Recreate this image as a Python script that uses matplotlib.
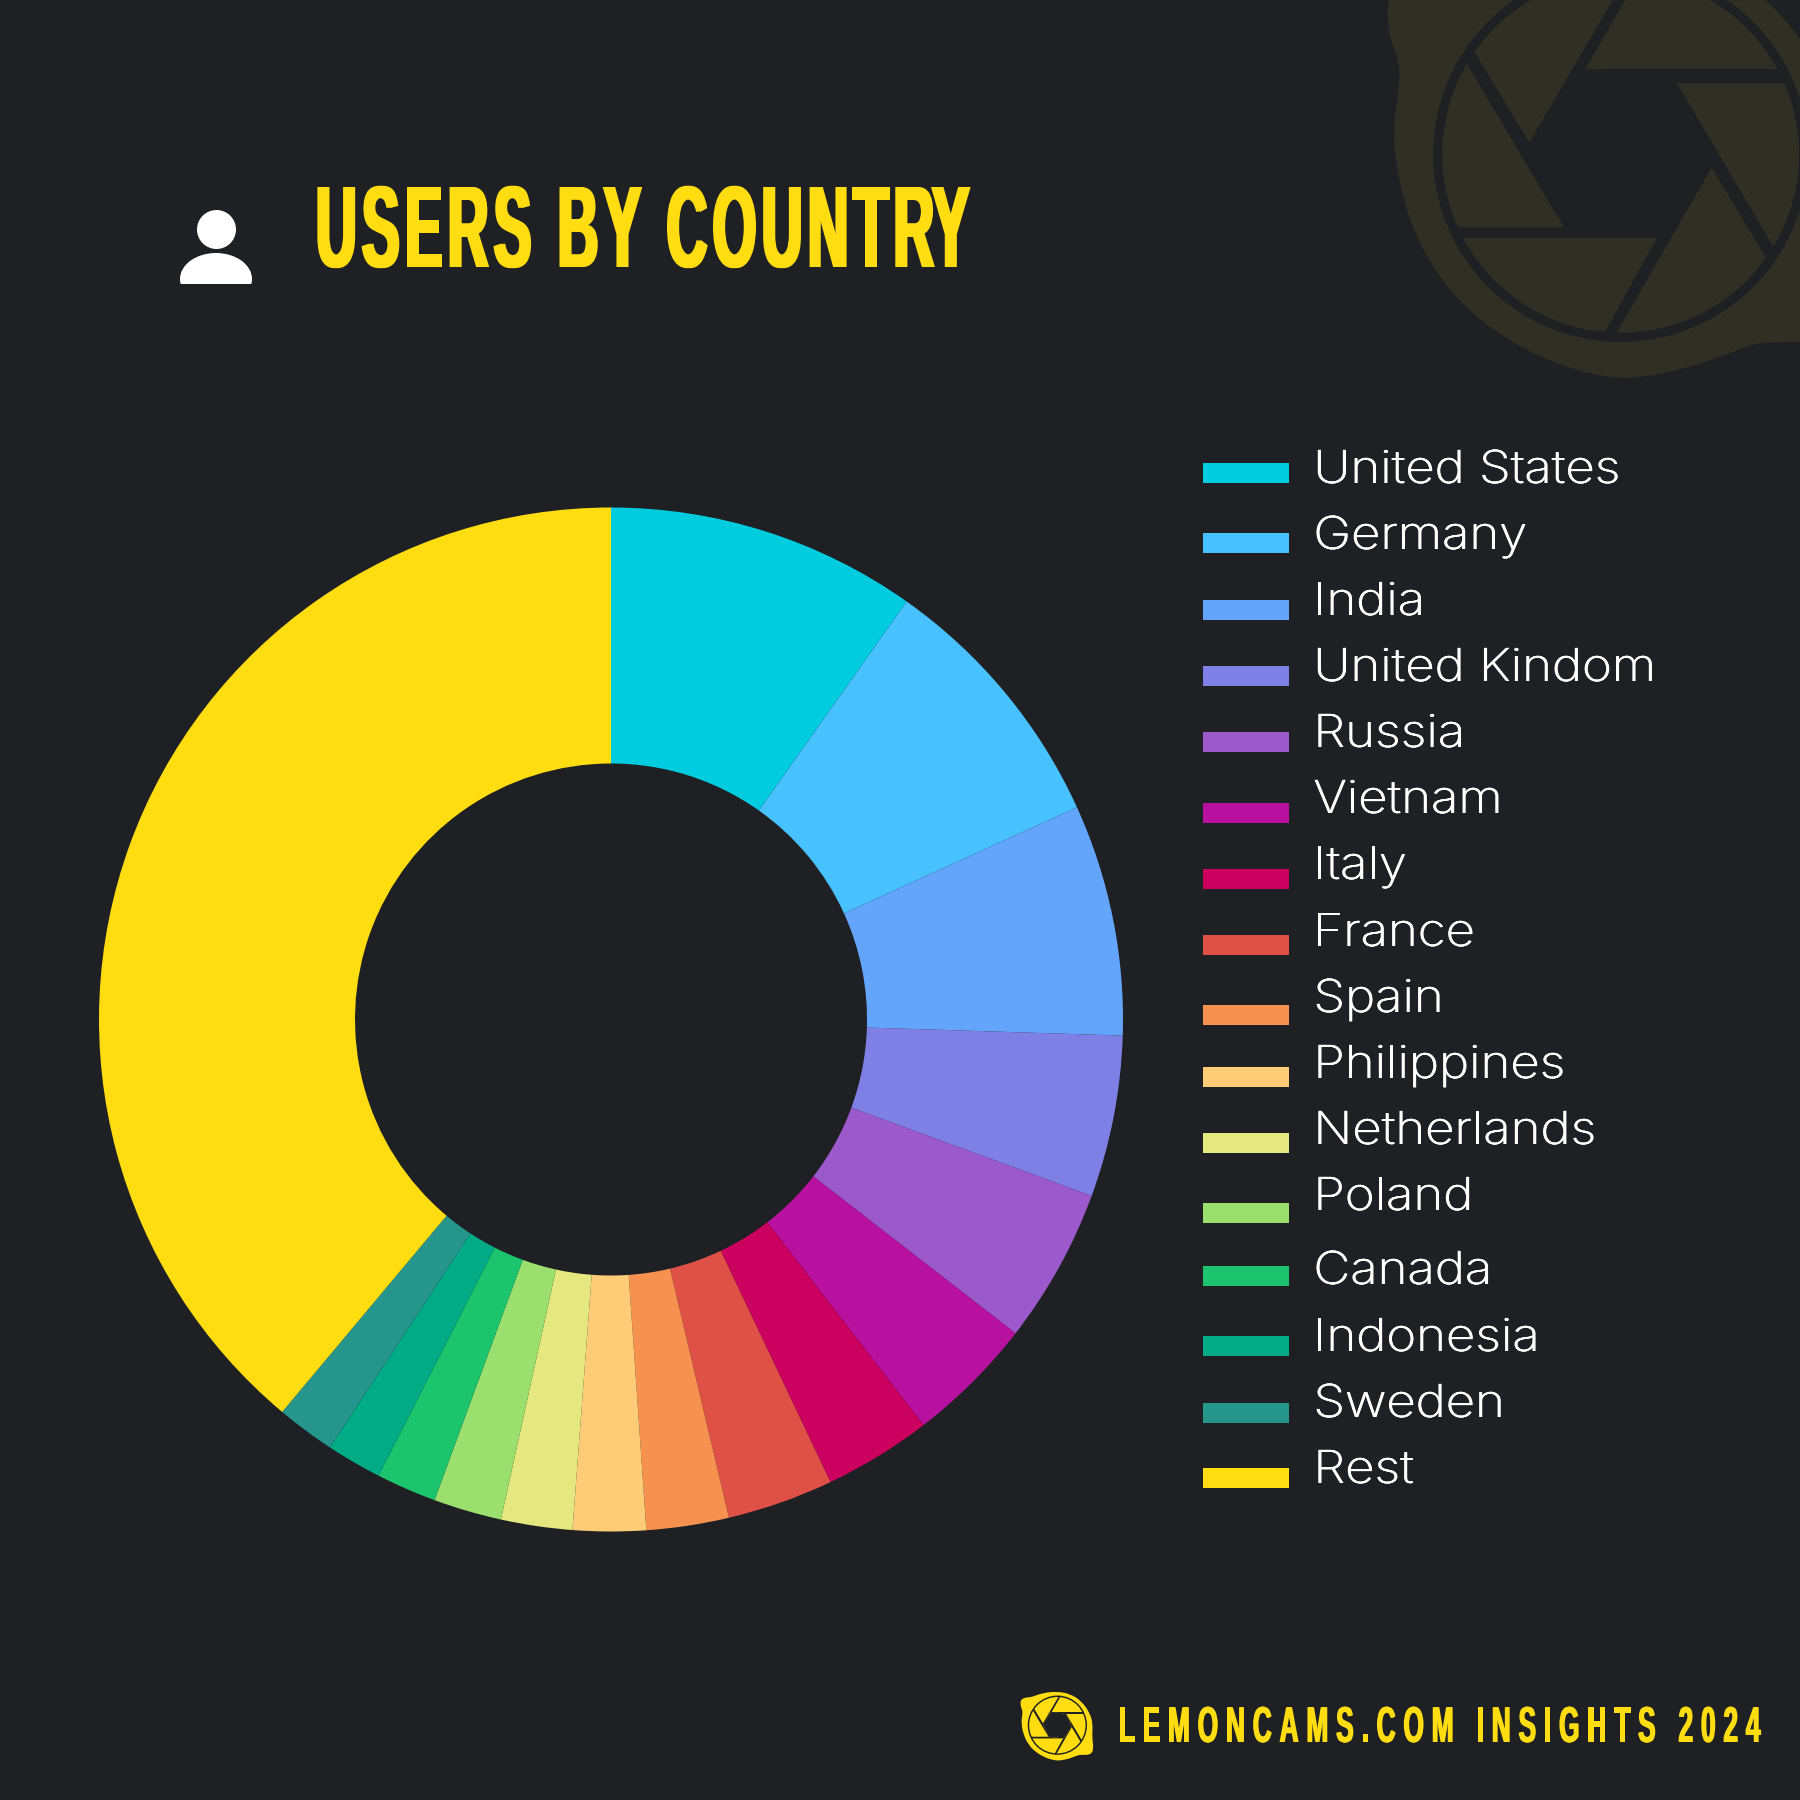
import numpy as np
import matplotlib
matplotlib.use('Agg')
import matplotlib.pyplot as plt
from matplotlib.patches import Circle, Ellipse, PathPatch, Polygon, Rectangle
from matplotlib.path import Path
from matplotlib.patheffects import AbstractPathEffect
from matplotlib.transforms import Affine2D

# data, share of users in percent
countries = ['United States', 'Germany', 'India', 'United Kindom', 'Russia', 'Vietnam',
             'Italy', 'France', 'Spain', 'Philippines', 'Netherlands', 'Poland',
             'Canada', 'Indonesia', 'Sweden', 'Rest']
shares = [9.8, 8.4, 7.3, 5.1, 4.9, 4.05, 3.4, 3.35, 2.6, 2.3, 2.25, 2.15, 1.9, 1.75, 1.85, 38.9]
colors = ['#00CCDF', '#48C2FF', '#62A5FA', '#7E80E6', '#9B59CC', '#B8109F', '#CC005F', '#DF5146',
          '#F6924F', '#FECB76', '#E5E87E', '#9BE06F', '#1CC46E', '#00AB85', '#26958C', '#FFDD11']

# legend rows are not evenly spaced in the original (pixels from the top)
swatch_tops = [463, 533, 600, 666, 732, 803, 869, 935, 1005, 1067, 1133, 1203, 1266, 1336, 1403, 1468]
text_baselines = [483, 549, 615, 681, 747, 813, 879, 946, 1012, 1078, 1144, 1210, 1284, 1351, 1417, 1483]

BG = '#1E2024'
YELLOW = '#FFDD11'
PX = 0.72  # points per pixel at dpi 100

# logo outline and shutter gaps, in units of the shutter ring radius
blob = [(-1.27, -.70), (-1.27, -.83), (-1.20, -.90), (-1.05, -.95), (-.9, -.95), (-.5, -1.10), (0, -1.15),
        (.45, -1.07), (.844, -.826), (1.15, -.4), (1.25, 0), (1.22, .45), (1.28, .85), (1.17, 1.06),
        (.835, 1.055), (.725, 1.073), (.54, 1.147), (.34, 1.21), (.083, 1.26), (-.138, 1.24),
        (-.43, 1.145), (-.743, .96), (-.98, .72), (-1.16, .385), (-1.25, -.055), (-1.2, -.385),
        (-1.21, -.495), (-1.25, -.6)]
hexagon = [(-.183, -.444), (.321, -.371), (.514, .097), (.211, .486), (-.299, .426), (-.49, -.042)]
gaps = [[(-.49, -.042), (.073, -1.0), (.138, -1.0), (-.183, -.444)],
        [(-.183, -.444), (.93, -.444), (.93, -.371), (.321, -.371)],
        [(.321, -.371), (.87, .56), (.826, .615), (.514, .097)],
        [(.514, .097), (-.024, 1.031), (-.09, 1.031), (.211, .486)],
        [(.211, .486), (-.87, .486), (-.908, .426), (-.299, .426)],
        [(-.299, .426), (-.835, -.477), (-.798, -.55), (-.49, -.042)]]


class Reshape(AbstractPathEffect):
    # the installed fonts are too wide for this chart: scale the glyphs, fatten
    # the stems and add letter spacing, the text stays a normal Text
    def __init__(self, sx=1, sy=1, fatten=0, track=0):
        super().__init__()
        self.sx, self.sy, self.fatten, self.track = sx, sy, fatten, track

    def split_glyphs(self, tpath):
        # (path, shift) per glyph, a new glyph starts when a contour clears the x of the last one
        starts = list(np.flatnonzero(tpath.codes == Path.MOVETO)) + [len(tpath.codes)]
        out = []
        first = 0
        shift = 0
        right = None
        for a, b in zip(starts[:-1], starts[1:]):
            xs = tpath.vertices[a:b][tpath.codes[a:b] != Path.CLOSEPOLY, 0]
            if right is not None and xs.min() >= right:
                out.append((Path(tpath.vertices[first:a], tpath.codes[first:a]), shift))
                first = a
                shift += self.track
                if xs.min() - right > 20:  # a word space
                    shift += self.track
            right = xs.max() if right is None else max(right, xs.max())
        out.append((Path(tpath.vertices[first:], tpath.codes[first:]), shift))
        return out

    def draw_path(self, renderer, gc, tpath, affine, rgbFace=None):
        base = Affine2D().scale(self.sx, self.sy) + affine
        for dx in np.linspace(0, self.fatten, 3):
            for part, shift in self.split_glyphs(tpath):
                renderer.draw_path(gc, part, base + Affine2D().translate(shift + dx, 0), rgbFace)


def smooth_closed(points):
    pts = np.array(points)
    mids = (pts + np.roll(pts, -1, axis=0)) / 2
    verts = [mids[-1]]
    codes = [Path.MOVETO]
    for p, m in zip(pts, mids):
        verts += [p, m]
        codes += [Path.CURVE3, Path.CURVE3]
    return Path(verts, codes)


def draw_logo(ax, cx, cy, r, fill, line):
    to_px = Affine2D().scale(r).translate(cx, cy) + ax.transData
    ax.add_patch(PathPatch(smooth_closed(blob), fc=fill, ec='none', transform=to_px))
    ax.add_patch(Polygon(hexagon, fc=line, ec='none', transform=to_px))
    for g in gaps:
        ax.add_patch(Polygon(g, fc=line, ec='none', transform=to_px))
    ax.add_patch(Circle((.013, .024), 1.007, fc='none', ec=line, lw=0.05 * r * PX, transform=to_px))


fig = plt.figure(figsize=(18, 18), dpi=100, facecolor=BG)

# full figure axes in pixel coordinates for everything around the chart
bg = fig.add_axes([0, 0, 1, 1])
bg.set_xlim(0, 1800)
bg.set_ylim(1800, 0)
bg.axis('off')

draw_logo(bg, 1618.3, 150, 181.7, '#302F24', BG)
draw_logo(bg, 1057, 1724.5, 28.7, YELLOW, BG)

# person icon
bg.add_patch(Circle((216.5, 229.5), 19.5, fc='white', ec='none'))
body = Ellipse((216, 279), 72, 52, fc='white', ec='none')
bg.add_patch(body)
body.set_clip_path(Rectangle((170, 245), 100, 39, transform=bg.transData))

bg.text(314, 267, 'USERS BY COUNTRY', color=YELLOW, fontsize=46, fontweight='bold',
        family='Liberation Sans', va='baseline', ha='left',
        path_effects=[Reshape(sx=0.88, sy=1.82, fatten=4, track=5.4)])
bg.text(1118, 1742, 'LEMONCAMS.COM INSIGHTS 2024', color=YELLOW, fontsize=27.8, fontweight='bold',
        family='Liberation Sans', va='baseline', ha='left',
        path_effects=[Reshape(sx=0.68, sy=1.31, fatten=1.5, track=7.85)])

for name, col, top, base in zip(countries, colors, swatch_tops, text_baselines):
    bg.add_patch(Rectangle((1203, top), 86, 20, fc=col, ec='none'))
    bg.text(1313, base, name, color='white', fontsize=37, family='Inter', fontweight='light',
            va='baseline', ha='left', path_effects=[Reshape(sx=0.99, sy=0.885, fatten=0.8)])

# donut
cx, cy, R = 611, 1019.5, 512
pie_ax = fig.add_axes([(cx - R) / 1800, 1 - (cy + R) / 1800, 2 * R / 1800, 2 * R / 1800])
pie_ax.pie(shares, colors=colors, startangle=90, counterclock=False, radius=1,
           wedgeprops={'width': 0.5, 'linewidth': 0})
pie_ax.set_xlim(-1, 1)
pie_ax.set_ylim(-1, 1)

fig.savefig('out.png', dpi=100, facecolor=BG)
